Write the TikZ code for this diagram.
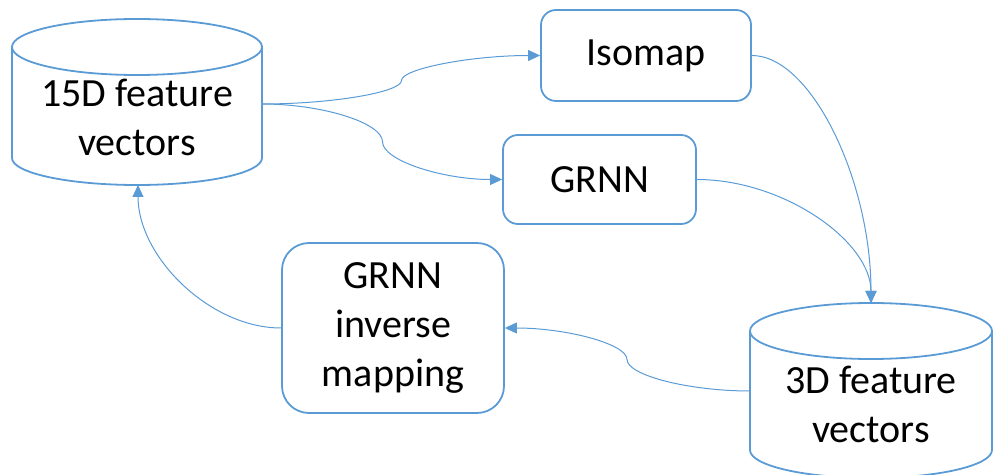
\documentclass[tikz,border=0pt]{standalone}
\usepackage{fontspec}
\setmainfont{Carlito}
\usetikzlibrary{arrows.meta}
\definecolor{obl}{HTML}{5B9BD5}
\tikzset{
  box/.style={draw=obl, line width=1.8pt, rounded corners=#1, inner sep=0pt, align=center, font=\fontsize{40}{49}\selectfont, text=black},
  box/.default=15pt,
  cyl/.style={draw=obl, line width=1.8pt},
  cyltext/.style={align=center, font=\fontsize{40}{49}\selectfont, text=black, inner sep=0pt},
  conn/.style={draw=obl, line width=1pt, -{Triangle[length=12pt,width=11pt]}}
}
\begin{document}
\begin{tikzpicture}[x=1pt,y=1pt]
\useasboundingbox (0,0) rectangle (993,474);
% 15D cylinder
\draw[cyl] (12,427) -- (12,316) arc (180:360:125 and 27) -- (262,427);
\draw[cyl] (137,427) ellipse (125 and 28);
\node[cyltext] (t15) at (137,356.5) {15D feature\\vectors};
\coordinate (c15e) at (262,370);
\coordinate (c15s) at (138,289);
% 3D cylinder
\draw[cyl] (750,143) -- (750,24) arc (180:360:121 and 28) -- (992,143);
\draw[cyl] (871,143) ellipse (121 and 28);
\node[cyltext] (t3) at (871,69.5) {3D feature\\vectors};
\coordinate (c3n) at (871,171);
\coordinate (c3w) at (750,83);
% boxes
\node[box, minimum width=210pt, minimum height=91pt] (iso) at (646,418.5) {Isomap};
\node[box, minimum width=193pt, minimum height=89pt] (grnn) at (599.5,294.5) {GRNN};
\node[box=27pt, minimum width=222pt, minimum height=170pt] (inv) at (393,146) {GRNN\\inverse\\mapping};
% connectors
\draw[conn] (c15e) .. controls (331.75,370) and (401.5,381.75) .. (401.5,393.5)
  .. controls (401.5,405.25) and (471.25,418.5) .. (iso.west);
\draw[conn] (c15e) .. controls (322.25,370) and (382.5,351.1) .. (382.5,332.25)
  .. controls (382.5,313.4) and (442.75,294.5) .. (grnn.west);
\draw[conn] (iso.east) .. controls (811,418.5) and (871,294) .. (c3n);
\draw[conn] (grnn.east) .. controls (783.5,294.5) and (871,232.75) .. (c3n);
\draw[conn] (c3w) .. controls (688.5,83) and (627,98.75) .. (627,114.5)
  .. controls (627,130.25) and (565.5,146) .. (inv.east);
\draw[conn] (inv.west) .. controls (209.5,146) and (138,217.5) .. (c15s);
\end{tikzpicture}
\end{document}
